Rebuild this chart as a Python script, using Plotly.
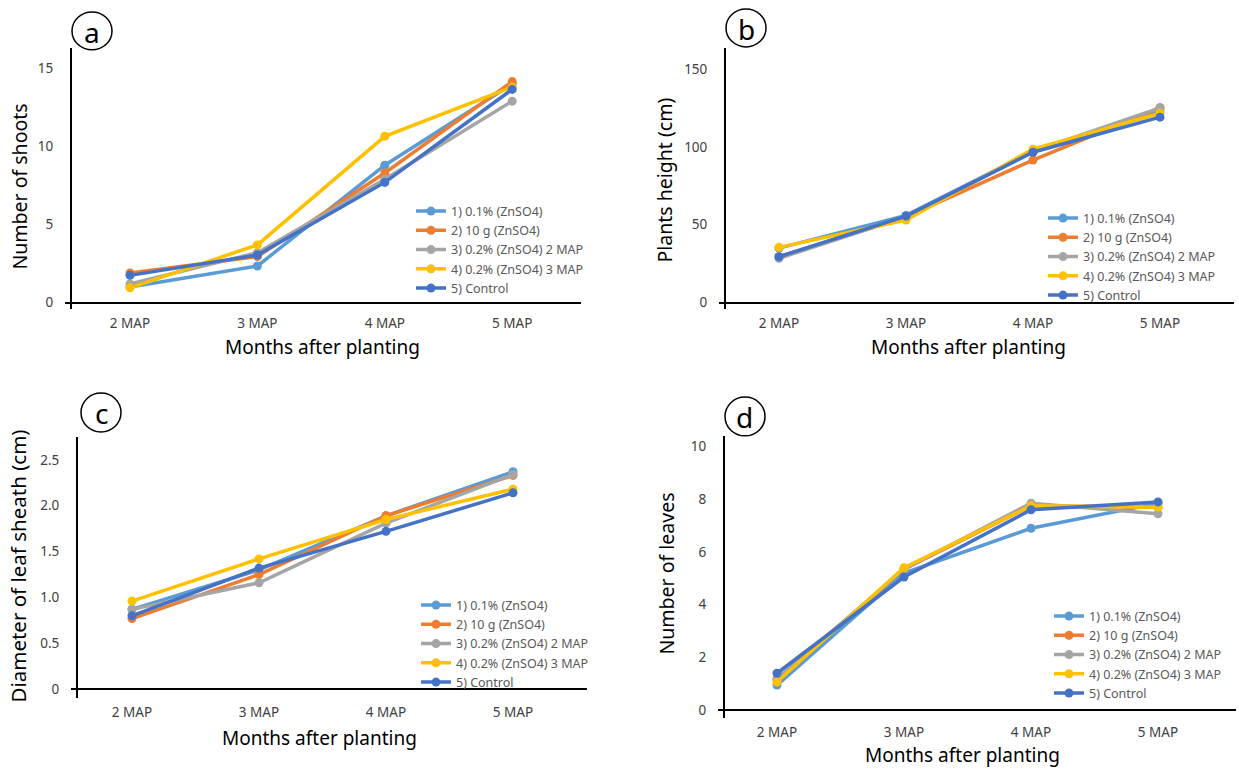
import plotly.graph_objects as go

# ---------------- data ----------------
categories = ["2 MAP", "3 MAP", "4 MAP", "5 MAP"]
series_names = ["1) 0.1% (ZnSO4)", "2) 10 g (ZnSO4)", "3) 0.2% (ZnSO4) 2 MAP",
                "4) 0.2% (ZnSO4) 3 MAP", "5) Control"]
colors = ["#5B9BD5", "#ED7D31", "#A5A5A5", "#FFC000", "#4472C4"]

# (a) Number of shoots
shoots_s1 = [1.0, 2.35, 8.8, 14.0]
shoots_s2 = [1.9, 2.95, 8.3, 14.15]
shoots_s3 = [1.2, 3.2, 7.9, 12.9]
shoots_s4 = [0.95, 3.7, 10.65, 13.8]
shoots_s5 = [1.75, 3.05, 7.7, 13.65]

# (b) Plants height (cm)
height_s1 = [35, 56, 97, 123]
height_s2 = [29.5, 55, 91.5, 125]
height_s3 = [28.5, 55, 97, 125]
height_s4 = [35.5, 53, 98.5, 121.5]
height_s5 = [29.5, 55.5, 96.5, 119]

# (c) Diameter of leaf sheath (cm)
diam_s1 = [0.87, 1.30, 1.89, 2.37]
diam_s2 = [0.77, 1.25, 1.89, 2.33]
diam_s3 = [0.87, 1.16, 1.81, 2.34]
diam_s4 = [0.96, 1.42, 1.85, 2.18]
diam_s5 = [0.80, 1.32, 1.72, 2.14]

# (d) Number of leaves
leaves_s1 = [0.95, 5.2, 6.9, 7.85]
leaves_s2 = [1.15, 5.35, 7.75, 7.7]
leaves_s3 = [1.2, 5.35, 7.85, 7.45]
leaves_s4 = [1.07, 5.4, 7.75, 7.7]
leaves_s5 = [1.4, 5.05, 7.6, 7.9]

a_ticks = [0, 5, 10, 15]
a_ticktext = ["0", "5", "10", "15"]
b_ticks = [0, 50, 100, 150]
b_ticktext = ["0", "50", "100", "150"]
c_ticks = [0, 0.5, 1.0, 1.5, 2.0, 2.5]
c_ticktext = ["0", "0.5", "1.0", "1.5", "2.0", "2.5"]
d_ticks = [0, 2, 4, 6, 8, 10]
d_ticktext = ["0", "2", "4", "6", "8", "10"]

x_title = "Months after planting"

# ---------------- layout geometry (pixels) ----------------
W, H = 1239, 771
FONT = "Noto Sans"

panels = [
    dict(letter="a", series=[shoots_s1, shoots_s2, shoots_s3, shoots_s4, shoots_s5],
         ytitle="Number of shoots", tickvals=a_ticks, ticktext=a_ticktext,
         yx=71, xl=65, xr=581, cat0=130, step=127.4,
         top=48, bottom=310, v0=0, p0=303.5, v1=15, p1=68.5,
         ytitle_pos=(20, 187), ytitle_size=19.5, xtitle_pos=(322, 348),
         legend_pos=(411, 197), circle=(72, 12, 112, 50)),
    dict(letter="b", series=[height_s1, height_s2, height_s3, height_s4, height_s5],
         ytitle="Plants height (cm)", tickvals=b_ticks, ticktext=b_ticktext,
         yx=725, xl=719, xr=1234, cat0=779, step=127.0,
         top=48, bottom=310, v0=0, p0=303.5, v1=150, p1=69,
         ytitle_pos=(665, 181), ytitle_size=19.5, xtitle_pos=(968, 348),
         legend_pos=(1043, 204), circle=(726, 9, 766, 47)),
    dict(letter="c", series=[diam_s1, diam_s2, diam_s3, diam_s4, diam_s5],
         ytitle="Diameter of leaf sheath (cm)", tickvals=c_ticks, ticktext=c_ticktext,
         yx=77, xl=71, xr=587, cat0=132, step=127.0,
         top=438, bottom=700, v0=0, p0=691, v1=2.5, p1=461,
         ytitle_pos=(18, 568), ytitle_size=20.5, xtitle_pos=(320, 740),
         legend_pos=(416, 592), circle=(81, 394, 121, 433)),
    dict(letter="d", series=[leaves_s1, leaves_s2, leaves_s3, leaves_s4, leaves_s5],
         ytitle="Number of leaves", tickvals=d_ticks, ticktext=d_ticktext,
         yx=724, xl=718, xr=1236, cat0=777, step=127.0,
         top=437, bottom=720, v0=0, p0=712, v1=10, p1=447.7,
         ytitle_pos=(667, 575), ytitle_size=19.5, xtitle_pos=(962, 757),
         legend_pos=(1049, 603), circle=(725, 398, 765, 437)),
]


def fx(px):
    return px / W


def fy(py):
    return 1 - py / H


fig = go.Figure()
layout = dict(width=W, height=H, margin=dict(l=0, r=0, t=0, b=0),
              paper_bgcolor="white", plot_bgcolor="white",
              font=dict(family=FONT, color="#000000"))
annotations = []
shapes = []

for i, p in enumerate(panels, start=1):
    suf = "" if i == 1 else str(i)
    xa, ya = "x" + suf, "y" + suf
    leg = "legend" + suf
    for name, vals, col in zip(series_names, p["series"], colors):
        fig.add_trace(go.Scatter(
            x=categories, y=vals, name=name, mode="lines+markers",
            line=dict(color=col, width=3.5), marker=dict(color=col, size=9),
            xaxis=xa, yaxis=ya, legend=leg, showlegend=True))

    # x range in category-index units
    xr0 = (p["xl"] - p["cat0"]) / p["step"]
    xr1 = (p["xr"] - p["cat0"]) / p["step"]
    ppu = (p["p0"] - p["p1"]) / (p["v1"] - p["v0"])
    yr0 = p["v0"] - (p["bottom"] - p["p0"]) / ppu
    yr1 = p["v0"] + (p["p0"] - p["top"]) / ppu

    layout["xaxis" + suf] = dict(
        domain=[fx(p["xl"]), fx(p["xr"])], anchor=ya, type="category",
        categoryorder="array", categoryarray=categories,
        range=[xr0, xr1], showline=False, showgrid=False, zeroline=False,
        ticks="", tickfont=dict(family=FONT, size=13.5, color="#404040"),
        ticklabelstandoff=4, fixedrange=True)
    layout["yaxis" + suf] = dict(
        domain=[fy(p["bottom"]), fy(p["top"])], anchor="free",
        position=fx(p["yx"]), range=[yr0, yr1],
        showline=True, linecolor="#000000", linewidth=2,
        zeroline=True, zerolinecolor="#000000", zerolinewidth=2,
        showgrid=False, ticks="", tickmode="array",
        tickvals=p["tickvals"], ticktext=p["ticktext"],
        tickfont=dict(family=FONT, size=13.5, color="#404040"),
        ticklabelstandoff=14, fixedrange=True)
    layout[leg] = dict(
        x=fx(p["legend_pos"][0]), y=fy(p["legend_pos"][1]),
        xanchor="left", yanchor="top", bgcolor="rgba(0,0,0,0)",
        font=dict(family=FONT, size=12.5, color="#595959"),
        tracegroupgap=0, itemwidth=30, traceorder="normal")

    annotations.append(dict(
        text=p["ytitle"], textangle=-90, xref="paper", yref="paper",
        x=fx(p["ytitle_pos"][0]), y=fy(p["ytitle_pos"][1]),
        xanchor="center", yanchor="middle", showarrow=False,
        font=dict(family=FONT, size=p["ytitle_size"], color="#000000")))
    annotations.append(dict(
        text=x_title, xref="paper", yref="paper",
        x=fx(p["xtitle_pos"][0]), y=fy(p["xtitle_pos"][1]),
        xanchor="center", yanchor="middle", showarrow=False,
        font=dict(family=FONT, size=19, color="#000000")))
    cx0, cy0, cx1, cy1 = p["circle"]
    shapes.append(dict(type="circle", xref="paper", yref="paper",
                       x0=fx(cx0), x1=fx(cx1), y0=fy(cy1), y1=fy(cy0),
                       line=dict(color="#000000", width=1.5),
                       fillcolor="white", layer="above"))
    annotations.append(dict(
        text=p["letter"], xref="paper", yref="paper",
        x=fx((cx0 + cx1) / 2), y=fy((cy0 + cy1) / 2 + 1),
        xanchor="center", yanchor="middle", showarrow=False,
        font=dict(family=FONT, size=28, color="#000000")))

layout["annotations"] = annotations
layout["shapes"] = shapes
fig.update_layout(**layout)
fig.write_html("out.html",
               config={"displayModeBar": False, "staticPlot": True},
               post_script="document.body.style.margin='0px';"
                           "document.body.style.overflow='hidden';")
